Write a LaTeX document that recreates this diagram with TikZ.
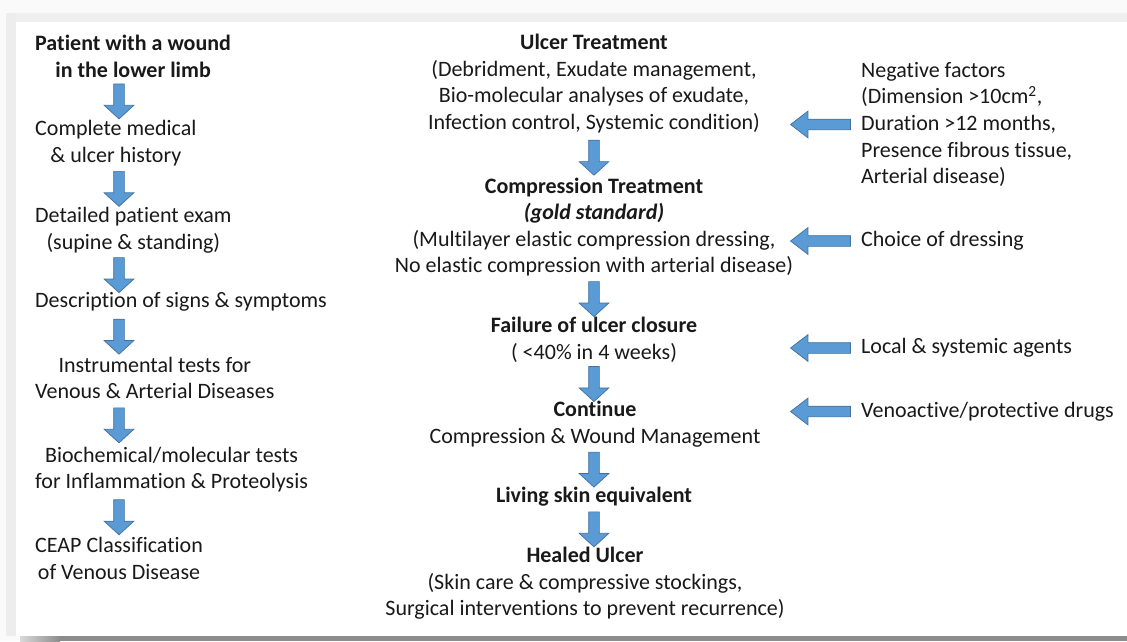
\documentclass[tikz,border=0pt]{standalone}
\usepackage{fontspec}
\setmainfont{Carlito}[Ligatures=NoCommon]
\usetikzlibrary{shapes.arrows,positioning,calc}

\definecolor{arrfill}{HTML}{5B9BD5}
\definecolor{arrline}{HTML}{41719C}
\definecolor{bandlight}{HTML}{EFEFEF}
\definecolor{banddark}{HTML}{8C8C8C}

\begin{document}
\begin{tikzpicture}[x=1pt,y=-1pt,
  every node/.style={font=\fontsize{22}{26.6}\selectfont, text=black!90},
  lefttxt/.style={anchor=west, align=center, inner sep=3pt},
  midtxt/.style={align=center, inner sep=3pt},
  righttxt/.style={anchor=west, align=left, inner sep=3pt},
  blk/.style={single arrow, draw=arrline, fill=arrfill, line width=0.7pt,
    inner sep=0pt, minimum width=0pt, text height=5pt, text depth=5pt},
  downarr/.style={blk, minimum height=35pt, rotate=-90,
    single arrow head extend=9.5pt, single arrow tip angle=95},
  leftarr/.style={blk, minimum height=60pt, rotate=180,
    single arrow head extend=8pt, single arrow tip angle=75}]

% page and frame
\useasboundingbox (0,0) rectangle (1127,641);
\fill[black!2] (0,0) rectangle (1127,641);
\fill[white] (16,22) rectangle (1127,636);
\fill[bandlight] (16,13) rectangle (1127,22);
\fill[black!7] (6,13) rectangle (16,636);
\fill[banddark] (60,636) rectangle (1127,641);
\shade[left color=black!15, right color=banddark] (20,636) rectangle (60,641);

% column axes
\coordinate (lc) at (119,0);
\coordinate (mc) at (594,0);

% left column
\node[lefttxt] (p1) at (32,56.5) {\textbf{Patient with a wound}\\\textbf{in the lower limb}};
\node[lefttxt] (p2) at (32,143) {Complete medical\\\& ulcer history};
\node[lefttxt] (p3) at (32,230) {Detailed patient exam\\(supine \& standing)};
\node[lefttxt] (p4) at (32,302) {Description of signs \& symptoms};
\node[lefttxt] (p5) at (32,378) {Instrumental tests for\\Venous \& Arterial Diseases};
\node[lefttxt] (p6) at (32,469.5) {Biochemical/molecular tests\\for Inflammation \& Proteolysis};
\node[lefttxt] (p7) at (32,558.5) {CEAP Classification\\of Venous Disease};

% middle column
\node[midtxt] (m1) at (594,83.5) {\textbf{Ulcer Treatment}\\(Debridment, Exudate management,\\Bio-molecular analyses of exudate,\\Infection control, Systemic condition)};
\node[midtxt] (m2) at (594,227) {\textbf{Compression Treatment}\\\textbf{\textit{(gold standard)}}\\(Multilayer elastic compression dressing,\\No elastic compression with arterial disease)};
\node[midtxt] (m3) at (594,339.5) {\textbf{Failure of ulcer closure}\\( <40\% in 4 weeks)};
\node[midtxt] (m4) at (595,424) {\textbf{Continue}\\Compression \& Wound Management};
\node[midtxt] (m5) at (594,497) {\textbf{Living skin equivalent}};
\node[midtxt] (m6) at (585,583.5) {\textbf{Healed Ulcer}\\(Skin care \& compressive stockings,\\Surgical interventions to prevent recurrence)};

% right column
\node[righttxt] (r1) at (858,124.5) {Negative factors\\(Dimension >10cm\textsuperscript{2},\\Duration >12 months,\\Presence fibrous tissue,\\Arterial disease)};
\node[righttxt] (r2) at (858,241) {Choice of dressing};
\node[righttxt] (r3) at (858,348) {Local \& systemic agents};
\node[righttxt] (r4) at (858,411.5) {Venoactive/protective drugs};

% block arrows
\foreach \a/\b in {p1/p2,p2/p3,p3/p4,p4/p5,p5/p6,p6/p7}{
  \coordinate (m) at ($(\a.south)!.5!(\b.north)$);
  \node[downarr] (\a\b) at (m -| lc) {};
}
\foreach \a/\b in {m1/m2,m2/m3,m3/m4,m4/m5,m5/m6}{
  \coordinate (m) at ($(\a.south)!.5!(\b.north)$);
  \node[downarr] (\a\b) at (m -| mc) {};
}
\foreach \r/\t in {r1/m1,r2/m2,r3/m3,r4/m4}
  \node[leftarr] (\r\t) at ([xshift=-34pt]\r.west) {};
\end{tikzpicture}
\end{document}
